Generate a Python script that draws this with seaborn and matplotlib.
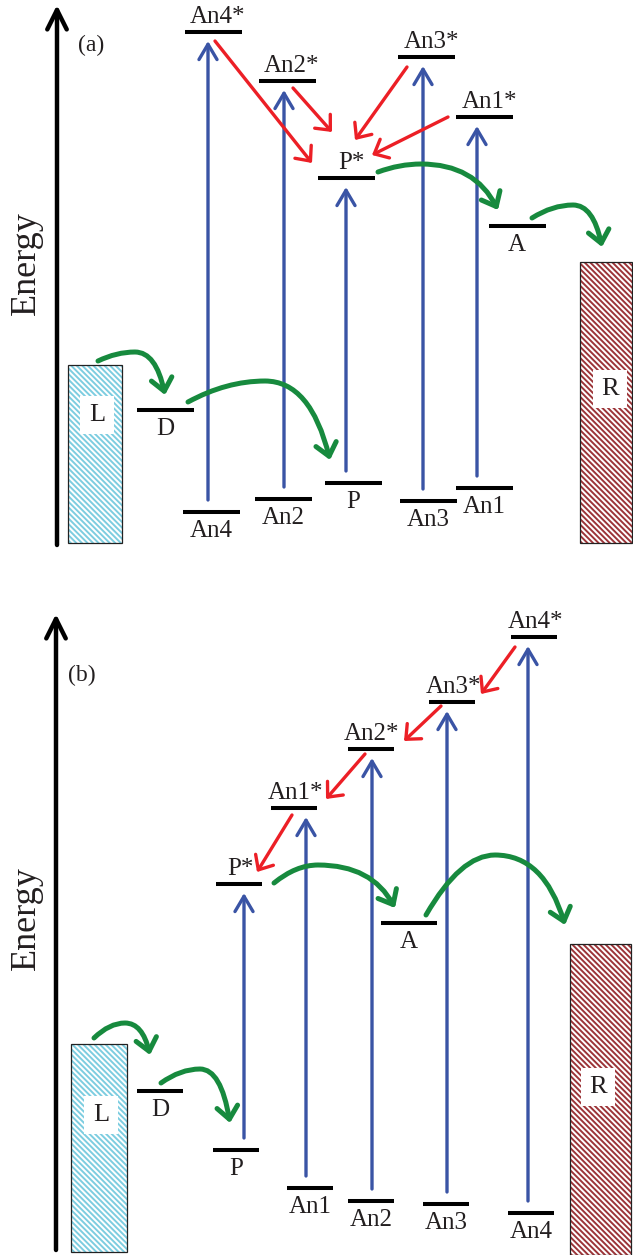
import numpy as np
import pandas as pd
import seaborn as sns
import matplotlib.pyplot as plt
from matplotlib.patches import FancyArrowPatch, Rectangle, ArrowStyle
from matplotlib.path import Path

sns.set_theme(style='white')
plt.rcParams['font.family'] = ['Liberation Serif', 'DejaVu Serif']
plt.rcParams['hatch.linewidth'] = 1.4

# ---------------- panel (a) ----------------
a_names = ['An4*', 'An2*', 'An3*', 'An1*', 'P*', 'A', 'D', 'An4', 'An2', 'P', 'An3', 'An1']
a_x = [213, 287, 426, 484, 346, 517, 165, 211, 283, 353, 428, 484]
a_energy = [528, 479, 503, 443, 382, 334, 150, 48, 61, 77, 59, 72]
# excitation ground -> excited
a_pump = ['An4', 'An2', 'P', 'An3', 'An1']
a_pump_x = [208, 284, 346, 423, 477]
# energy transfer (red), start -> end
a_et_x0 = [215, 293, 407, 448]
a_et_e0 = [519, 472, 493, 443]
a_et_x1 = [312, 332, 355, 372]
a_et_e1 = [397, 428, 420, 405]
# charge transfer (green): L->D, D->P, P*->A, A->R
a_ct_x = [(98, 135, 165), (188, 265, 330), (378, 421, 498), (532, 573, 602)]
a_ct_e = [(199, 208, 165), (158, 179, 100), (388, 396, 350), (342, 355, 313)]
# electrodes L and R: x0, x1, e0, e1, label position
a_boxes = [('L', 68, 122, 17, 195, 97, 145), ('R', 580, 632, 17, 298, 610, 171)]

# ---------------- panel (b) ----------------
b_names = ['P*', 'An1*', 'An2*', 'An3*', 'An4*', 'A', 'D', 'P', 'An1', 'An2', 'An3', 'An4']
b_x = [239, 294, 371, 452, 534, 409, 160, 236, 310, 371, 446, 531]
b_energy = [371, 447, 506, 553, 618, 332, 164, 105, 67, 54, 51, 42]
b_pump = ['P', 'An1', 'An2', 'An3', 'An4']
b_pump_x = [244, 306, 372, 447, 528]
b_et_x0 = [515, 441, 365, 292]
b_et_e0 = [608, 549, 501, 440]
b_et_x1 = [481, 404, 326, 257]
b_et_e1 = [561, 514, 456, 383]
b_ct_x = [(94, 125, 150), (161, 200, 230), (274, 318, 395), (426, 495, 565)]
b_ct_e = [(217, 232, 200), (172, 186, 132), (372, 390, 347), (340, 400, 330)]
b_boxes = [('L', 71, 127, 3, 211, 101, 140), ('R', 570, 631, 0, 311, 598, 168)]

BLUE = '#3a54a5'
RED = '#ec1f26'
GREEN = '#178a3e'
TXT = '#231f20'
HATCH = {'L': '#7ccde0', 'R': '#9c3438'}


def arc_path(xs, es):
    x0, xp, x1 = xs
    e0, ep, e1 = es
    verts = [(x0, e0), ((x0 + xp) / 2, ep), (xp, ep),
             (x1 - 0.3 * (x1 - xp), ep), (x1, e1)]
    codes = [Path.MOVETO, Path.CURVE3, Path.CURVE3, Path.CURVE3, Path.CURVE3]
    return Path(verts, codes)


def draw_panel(ax, tag, tag_pos, names, xs, energy, pump, pump_x,
               et, ct_x, ct_e, boxes, axis, energy_pos, width, star_dx):
    levels = pd.DataFrame({'name': names, 'x': xs, 'energy': energy})
    levels['w'] = width
    if tag == '(b)':
        levels.loc[levels['name'] == 'A', 'w'] = 56

    # electrodes
    for name, x0, x1, e0, e1, lx, le in boxes:
        ax.add_patch(Rectangle((x0, e0), x1 - x0, e1 - e0, facecolor='white',
                               edgecolor=HATCH[name], hatch='\\' * 6, lw=0))
        ax.add_patch(Rectangle((x0, e0), x1 - x0, e1 - e0, fill=False,
                               edgecolor='#222222', lw=0.9))
        ax.text(lx, le, name, ha='center', va='center', fontsize=19, color=TXT,
                bbox=dict(boxstyle='square,pad=0.32', fc='white', ec='none'))

    # energy axis
    ax.add_patch(FancyArrowPatch((axis[0], axis[1]), (axis[0], axis[2]),
                                 arrowstyle=ArrowStyle('->', head_length=14, head_width=7),
                                 color='black', lw=3.2, shrinkA=0, shrinkB=0))
    ax.text(energy_pos[0], energy_pos[1], 'Energy', rotation=90, ha='center',
            va='center', fontsize=26, color=TXT)
    ax.text(tag_pos[0], tag_pos[1], tag, ha='center', va='center', fontsize=17, color=TXT)

    # levels
    ax.hlines(levels['energy'], levels['x'] - levels['w'] / 2,
              levels['x'] + levels['w'] / 2, color='black', lw=2.9)
    for _, r in levels.iterrows():
        if '*' in r['name']:
            ax.text(r['x'] + star_dx, r['energy'] + 9, r['name'], ha='center',
                    va='baseline', fontsize=18, color=TXT)
        else:
            ax.text(r['x'], r['energy'] - 25, r['name'], ha='center',
                    va='baseline', fontsize=18, color=TXT)

    # excitation (blue)
    lv = levels.set_index('name')['energy']
    for g, px in zip(pump, pump_x):
        ax.add_patch(FancyArrowPatch((px, lv[g] + 12), (px, lv[g + '*'] - 9),
                                     arrowstyle=ArrowStyle('->', head_length=11, head_width=6.5),
                                     color=BLUE, lw=2.4, shrinkA=0, shrinkB=0))

    # energy transfer (red)
    for x0, e0, x1, e1 in zip(*et):
        ax.add_patch(FancyArrowPatch((x0, e0), (x1, e1),
                                     arrowstyle=ArrowStyle('->', head_length=8.5, head_width=7.5),
                                     color=RED, lw=2.4, shrinkA=0, shrinkB=0))

    # charge transfer (green)
    for cx, ce in zip(ct_x, ct_e):
        ax.add_patch(FancyArrowPatch(path=arc_path(cx, ce),
                                     arrowstyle=ArrowStyle('->', head_length=9, head_width=7.5),
                                     color=GREEN, lw=3.6))


fig = plt.figure(figsize=(6.33, 12.55), dpi=100)
ax_a = fig.add_axes([0, 695 / 1255, 1, 560 / 1255])
ax_b = fig.add_axes([0, 0, 1, 655 / 1255])
ax_a.set_xlim(0, 633)
ax_a.set_ylim(0, 560)
ax_b.set_xlim(0, 633)
ax_b.set_ylim(0, 655)
for ax in (ax_a, ax_b):
    ax.set_axis_off()

draw_panel(ax_a, '(a)', (91, 515), a_names, a_x, a_energy, a_pump, a_pump_x,
           (a_et_x0, a_et_e0, a_et_x1, a_et_e1), a_ct_x, a_ct_e, a_boxes,
           (57, 15, 555), (26, 297), 57, 5)
draw_panel(ax_b, '(b)', (82, 580), b_names, b_x, b_energy, b_pump, b_pump_x,
           (b_et_x0, b_et_e0, b_et_x1, b_et_e1), b_ct_x, b_ct_e, b_boxes,
           (56, 5, 641), (26, 337), 46, 1)

fig.savefig('out.png', dpi=100)
